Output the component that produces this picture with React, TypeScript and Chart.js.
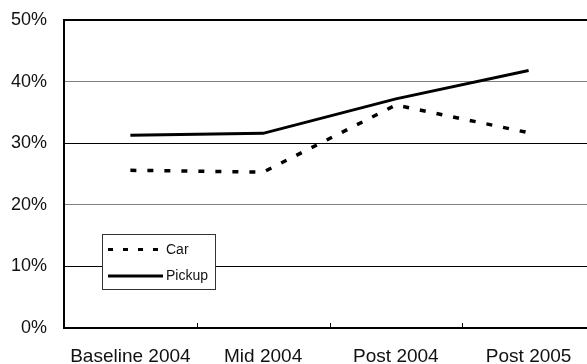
import React, { useEffect, useRef } from "react";
import { Chart, registerables } from "chart.js";

Chart.register(...registerables);

const categories = ["Baseline 2004", "Mid 2004", "Post 2004", "Post 2005"];
const carValues = [25.6, 25.3, 36.2, 31.7];
const pickupValues = [31.3, 31.6, 37.2, 41.8];
const seriesNames = ["Car", "Pickup"];

const FONT = "'Liberation Sans', Arial, sans-serif";

const innerTicks = {
  id: "innerTicks",
  afterDatasetsDraw(chart: any) {
    const x = chart.scales.x;
    const bottom = chart.chartArea.bottom;
    const ctx = chart.ctx;
    ctx.save();
    ctx.strokeStyle = "#000";
    ctx.lineWidth = 1;
    for (let i = 1; i < categories.length; i++) {
      const px = Math.round((x.getPixelForValue(i) + x.getPixelForValue(i - 1)) / 2) + 0.5;
      ctx.beginPath();
      ctx.moveTo(px, bottom - 5);
      ctx.lineTo(px, bottom);
      ctx.stroke();
    }
    ctx.restore();
  },
};

const boxLegend = {
  id: "boxLegend",
  afterDraw(chart: any) {
    const ctx = chart.ctx;
    const left = 102.5, top = 234.5, w = 113, h = 55;
    ctx.save();
    ctx.fillStyle = "#fff";
    ctx.fillRect(left, top, w, h);
    ctx.strokeStyle = "#333";
    ctx.lineWidth = 1;
    ctx.strokeRect(left, top, w, h);
    const rows = [249.5, 276];
    chart.data.datasets.forEach((ds: any, i: number) => {
      const y = rows[i];
      ctx.beginPath();
      ctx.strokeStyle = ds.borderColor;
      ctx.lineWidth = 3;
      ctx.setLineDash(ds.borderDash && ds.borderDash.length ? [5, 10] : []);
      ctx.moveTo(108, y);
      ctx.lineTo(163, y);
      ctx.stroke();
      ctx.setLineDash([]);
      ctx.fillStyle = "#111";
      ctx.font = `14px ${FONT}`;
      ctx.textBaseline = "middle";
      ctx.textAlign = "left";
      ctx.fillText(ds.label, 166, y + 0.5);
    });
    ctx.restore();
  },
};

export default function App() {
  const ref = useRef<HTMLCanvasElement>(null);
  useEffect(() => {
    document.body.style.margin = "0";
    const chart = new Chart(ref.current!, {
      type: "line",
      data: {
        labels: categories,
        datasets: [
          {
            label: seriesNames[0],
            data: carValues,
            borderColor: "#000",
            borderWidth: 3.5,
            borderDash: [6, 11],
            pointRadius: 0,
            fill: false,
            tension: 0,
          },
          {
            label: seriesNames[1],
            data: pickupValues,
            borderColor: "#000",
            borderWidth: 3,
            pointRadius: 0,
            fill: false,
            tension: 0,
          },
        ],
      },
      options: {
        responsive: false,
        animation: false,
        layout: { padding: { top: 20, right: 5, left: 0, bottom: 0 } },
        plugins: { legend: { display: false }, tooltip: { enabled: false } },
        scales: {
          x: {
            type: "category",
            offset: true,
            grid: { display: false, drawTicks: false },
            border: { display: true, color: "#000", width: 2 },
            ticks: {
              color: "#111",
              font: { family: FONT, size: 19 },
              padding: 17,
              maxRotation: 0,
              autoSkip: false,
            },
            afterFit: (s: any) => {
              s.height = 36;
              s.paddingLeft = 0;
              s.paddingRight = 0;
            },
          },
          y: {
            min: 0,
            max: 50,
            grid: {
              drawTicks: false,
              color: (c: any) => {
                const v = c.tick ? c.tick.value : 0;
                return v === 20 || v === 40 ? "#808080" : "#000";
              },
              lineWidth: (c: any) => (c.tick && c.tick.value === 50 ? 2 : 1),
            },
            border: { display: true, color: "#000", width: 2 },
            ticks: {
              stepSize: 10,
              color: "#111",
              font: { family: FONT, size: 18 },
              padding: 17,
              callback: (v: any) => `${v}%`,
            },
            afterFit: (s: any) => {
              s.width = 64;
              s.paddingTop = 0;
              s.paddingBottom = 0;
            },
          },
        },
      },
      plugins: [innerTicks, boxLegend],
    });
    return () => chart.destroy();
  }, []);
  return (
    <div style={{ width: 587, height: 364, overflow: "hidden", background: "#fff" }}>
      <canvas ref={ref} width={600} height={364} style={{ display: "block" }} />
    </div>
  );
}
